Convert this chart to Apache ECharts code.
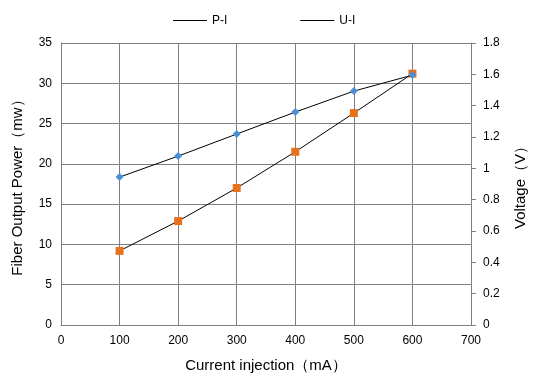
<!DOCTYPE html>
<html><head><meta charset="utf-8">
<script src="https://cdn.jsdelivr.net/npm/echarts@6/dist/echarts.min.js"></script>
<style>html,body{margin:0;padding:0;background:#fff}#c{width:543px;height:382px}</style>
</head><body><div id="c"></div>
<script>
const current = [100, 200, 300, 400, 500, 600];
const power = [9.2, 12.9, 17.0, 21.5, 26.3, 31.2];
const voltage = [0.944, 1.078, 1.219, 1.359, 1.493, 1.595];
const seriesNames = ['P-I', 'U-I'];

const font = 'Liberation Sans';
const grey = '#7f7f7f';
const chart = echarts.init(document.getElementById('c'));
chart.setOption({
  animation: false,
  textStyle: { fontFamily: font },
  legend: {
    top: 9.5, left: 168, itemGap: 73, itemWidth: 34, itemHeight: 1,
    icon: 'rect',
    itemStyle: { color: '#000', borderWidth: 0 },
    textStyle: { fontSize: 12, color: '#000', fontFamily: font },
    data: seriesNames
  },
  grid: { left: 61, right: 72, top: 43, bottom: 57 },
  xAxis: {
    type: 'value', min: 0, max: 700, interval: 100,
    name: 'Current injection（mA）', nameLocation: 'middle', nameGap: 33,
    nameTextStyle: { fontSize: 15, color: '#000', fontFamily: font },
    axisLine: { lineStyle: { color: grey } }, axisTick: { show: false },
    axisLabel: { color: '#000', fontSize: 12, margin: 10 },
    splitLine: { show: true, lineStyle: { color: grey, width: 1 } }
  },
  yAxis: [{
    type: 'value', min: 0, max: 35, interval: 5,
    name: 'Fiber Output Power（mw）', nameLocation: 'middle', nameGap: 36, nameRotate: 90,
    nameTextStyle: { fontSize: 15, color: '#000', fontFamily: font },
    axisLine: { show: true, lineStyle: { color: grey } }, axisTick: { show: false },
    axisLabel: { color: '#000', fontSize: 12, margin: 9 },
    splitLine: { show: true, lineStyle: { color: grey, width: 1 } }
  }, {
    type: 'value', min: 0, max: 1.8, interval: 0.2, position: 'right',
    name: 'Voltage（V）', nameLocation: 'middle', nameGap: 42, nameRotate: 90,
    nameTextStyle: { fontSize: 15, color: '#000', fontFamily: font },
    axisLine: { show: true, lineStyle: { color: grey } },
    axisTick: { show: true, length: 5, lineStyle: { color: grey } },
    axisLabel: { color: '#000', fontSize: 12, margin: 12 },
    splitLine: { show: false }
  }],
  series: [{
    name: seriesNames[0], type: 'line', yAxisIndex: 0,
    data: current.map((x, i) => [x, power[i]]),
    symbol: 'rect', symbolSize: 8,
    itemStyle: { color: '#E8711C' },
    lineStyle: { color: '#000', width: 1 }, z: 3
  }, {
    name: seriesNames[1], type: 'line', yAxisIndex: 1,
    data: current.map((x, i) => [x, voltage[i]]),
    symbol: 'diamond', symbolSize: 8,
    itemStyle: { color: '#4A8FD6' },
    lineStyle: { color: '#000', width: 1 }, z: 4
  }]
});
</script></body></html>
